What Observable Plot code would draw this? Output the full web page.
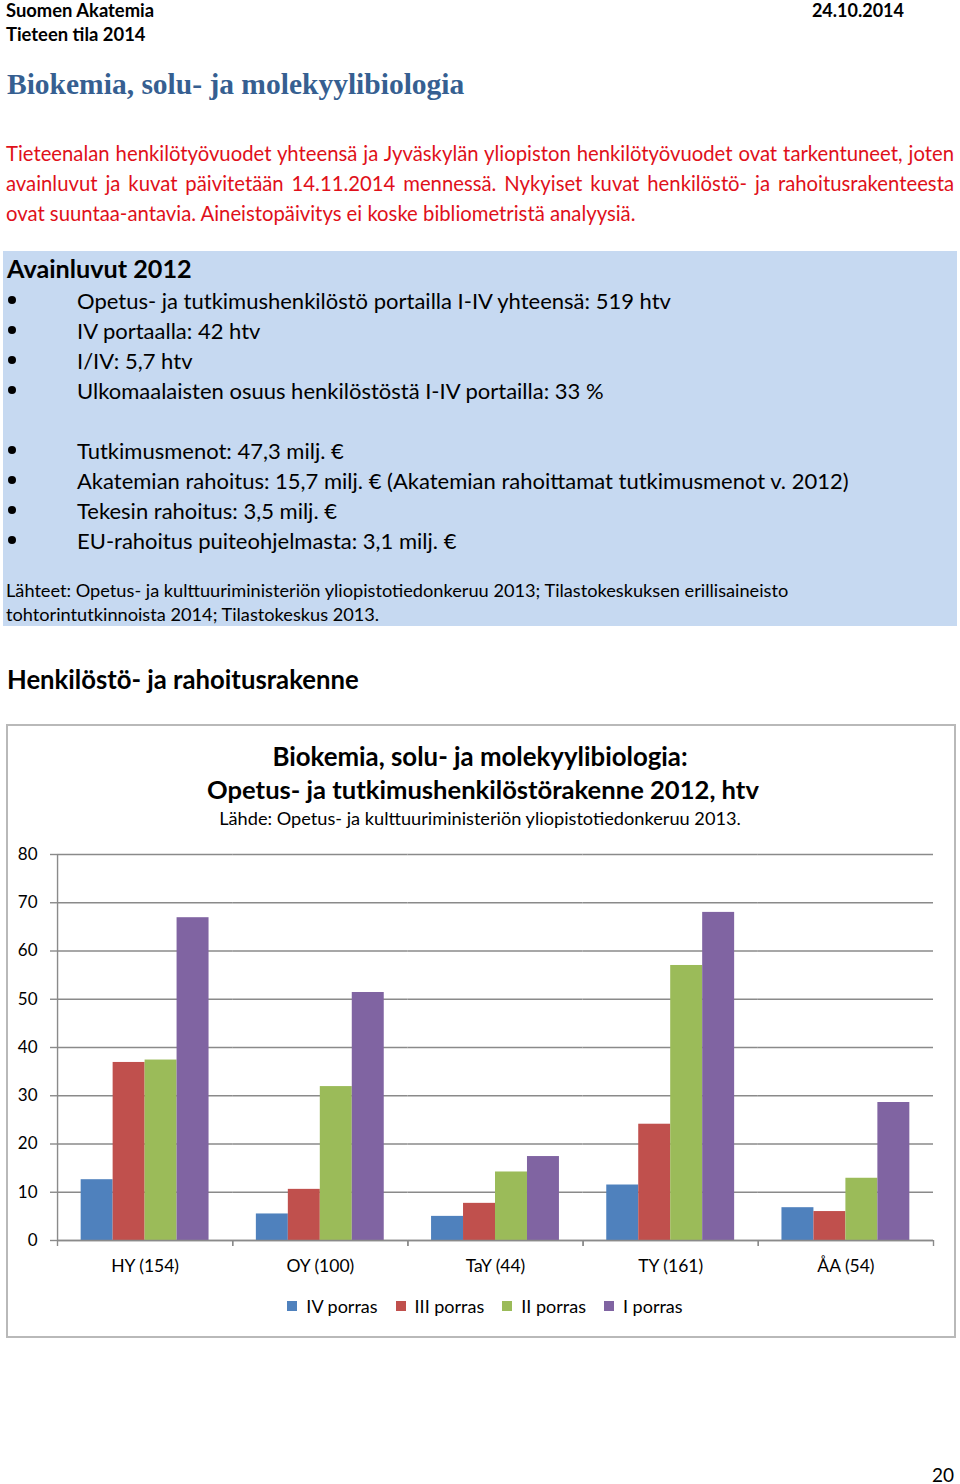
<!DOCTYPE html>
<html>
<head>
<meta charset="utf-8">
<script src="https://cdn.jsdelivr.net/npm/d3@7"></script>
<script src="https://cdn.jsdelivr.net/npm/@observablehq/plot@0.6"></script>
<style>
  html, body { margin: 0; padding: 0; background: #fff; }
  body { width: 960px; height: 1484px; position: relative; font-family: Lato, "Open Sans", sans-serif; color: #000; overflow: hidden; }
  .t { position: absolute; white-space: nowrap; }
  .b { font-weight: bold; }
  .pl { position: absolute; left: 6px; width: 948px; color: #e0101a; font-size: 20.3px; line-height: 30px; white-space: nowrap; }
  .pl.j { text-align: justify; text-align-last: justify; white-space: normal; }
  #box { position: absolute; left: 3px; top: 251px; width: 954px; height: 375px; background: #c6d9f1; }
  .bul { position: absolute; left: 8px; width: 8px; height: 8px; border-radius: 50%; background: #000; }
  #chartbox { position: absolute; left: 6px; top: 724px; width: 946px; height: 610px; border: 2px solid #b9b9b9; }
  #plot { position: absolute; left: 0; top: 840px; }
  #legend { position: absolute; left: 14px; width: 960px; top: 1289px; display: flex; justify-content: center; }
</style>
</head>
<body>
<div id="page"></div>
<div id="plot"></div>
<div id="legend"></div>
<script>
// ---- Data ----
const categories = ["HY (154)", "OY (100)", "TaY (44)", "TY (161)", "ÅA (54)"];
const series = ["IV porras", "III porras", "II porras", "I porras"];
const ivPorras  = [12.6, 5.5, 5.0, 11.5, 6.8];
const iiiPorras = [36.9, 10.6, 7.7, 24.1, 6.0];
const iiPorras  = [37.4, 31.9, 14.2, 57.0, 12.9];
const iPorras   = [66.9, 51.4, 17.4, 68.0, 28.6];
const yTicks = [0, 10, 20, 30, 40, 50, 60, 70, 80];
const colors = ["#4f81bd", "#c0504d", "#9bbb59", "#8064a2"];

const seriesValues = [ivPorras, iiiPorras, iiPorras, iPorras];
const table = [];
categories.forEach((c, i) => series.forEach((s, j) => table.push({category: c, series: s, value: seriesValues[j][i]})));

// ---- Page text ----
const page = document.getElementById("page");
function txt(str, x, cy, size, opts = {}) {
  const d = document.createElement("div");
  d.className = "t" + (opts.bold ? " b" : "");
  d.textContent = str;
  const lh = Math.round(size * 1.4);
  d.style.fontSize = size + "px";
  d.style.lineHeight = lh + "px";
  d.style.top = (cy - lh / 2) + "px";
  if (opts.center) { d.style.left = "0px"; d.style.width = (2 * x) + "px"; d.style.textAlign = "center"; }
  else if (opts.right) { d.style.right = (960 - x) + "px"; d.style.textAlign = "right"; }
  else d.style.left = x + "px";
  if (opts.color) d.style.color = opts.color;
  if (opts.font) d.style.fontFamily = opts.font;
  (opts.parent || page).appendChild(d);
  return d;
}
txt("Suomen Akatemia", 6, 10, 18.4, {bold: true});
txt("Tieteen tila 2014", 6, 34, 18.4, {bold: true});
txt("24.10.2014", 904, 10, 18, {bold: true, right: true});
txt("Biokemia, solu- ja molekyylibiologia", 7, 84, 29.5, {bold: true, color: "#365f91", font: "'Liberation Serif', 'DejaVu Serif', serif"});

const paraLines = [
  ["Tieteenalan henkilötyövuodet yhteensä ja Jyväskylän yliopiston henkilötyövuodet ovat tarkentuneet, joten", 153, true],
  ["avainluvut ja kuvat päivitetään 14.11.2014 mennessä. Nykyiset kuvat henkilöstö- ja rahoitusrakenteesta", 183, true],
  ["ovat suuntaa-antavia. Aineistopäivitys ei koske bibliometristä analyysiä.", 213, false]
];
paraLines.forEach(([s, y, j]) => {
  const d = document.createElement("div");
  d.className = "pl" + (j ? " j" : "");
  d.textContent = s;
  d.style.top = (y - 15) + "px";
  page.appendChild(d);
});

const box = document.createElement("div");
box.id = "box";
page.appendChild(box);
txt("Avainluvut 2012", 7, 268, 25.2, {bold: true});
const bullets = [
  ["Opetus- ja tutkimushenkilöstö portailla I-IV yhteensä: 519 htv", 300],
  ["IV portaalla: 42 htv", 330],
  ["I/IV: 5,7 htv", 360],
  ["Ulkomaalaisten osuus henkilöstöstä I-IV portailla: 33 %", 390],
  ["Tutkimusmenot: 47,3 milj. €", 450],
  ["Akatemian rahoitus: 15,7 milj. € (Akatemian rahoittamat tutkimusmenot v. 2012)", 480],
  ["Tekesin rahoitus: 3,5 milj. €", 510],
  ["EU-rahoitus puiteohjelmasta: 3,1 milj. €", 540]
];
bullets.forEach(([s, y]) => {
  txt(s, 77, y, 22);
  const b = document.createElement("div");
  b.className = "bul";
  b.style.top = (y - 4) + "px";
  page.appendChild(b);
});
txt("Lähteet: Opetus- ja kulttuuriministeriön yliopistotiedonkeruu 2013; Tilastokeskuksen erillisaineisto", 6, 590, 18.2);
txt("tohtorintutkinnoista 2014; Tilastokeskus 2013.", 6, 614, 18.2);

txt("Henkilöstö- ja rahoitusrakenne", 7, 679, 25.7, {bold: true});
const cb = document.createElement("div");
cb.id = "chartbox";
page.appendChild(cb);
txt("Biokemia, solu- ja molekyylibiologia:", 480, 756, 25.8, {bold: true, center: true});
txt("Opetus- ja tutkimushenkilöstörakenne 2012, htv", 483, 789, 25.6, {bold: true, center: true});
txt("Lähde: Opetus- ja kulttuuriministeriön yliopistotiedonkeruu 2013.", 480, 818, 18.2, {center: true});
txt("20", 932, 1474, 19);

// ---- Chart ----
const gray = "#8a8a8a";
const chart = Plot.plot({
  width: 960,
  height: 440,
  marginLeft: 57,
  marginRight: 27,
  marginTop: 14,
  marginBottom: 40,
  style: {fontFamily: "Lato, sans-serif", fontSize: "17px", color: "#000", background: "transparent"},
  fx: {domain: categories, padding: 0, label: null, round: false},
  x: {domain: series, paddingInner: 0, paddingOuter: 0.74, axis: null, round: false},
  y: {domain: [0, 80], label: null},
  color: {domain: series, range: colors},
  marks: [
    Plot.gridY(yTicks, {stroke: gray, strokeOpacity: 1, strokeWidth: 1.4}),
    Plot.axisY(yTicks, {tickSize: 7, tickPadding: 13, stroke: gray, strokeWidth: 1.4, fontSize: 17, label: null}),
    Plot.axisFx({anchor: "bottom", tickSize: 0, tickPadding: 19, fontSize: 17.5, label: null}),
    Plot.axisFx({anchor: "bottom", tickSize: 6, tickFormat: () => "", dx: -87.6, stroke: gray, strokeWidth: 1.4, label: null}),
    Plot.axisFx([categories[categories.length - 1]], {anchor: "bottom", tickSize: 6, tickFormat: () => "", dx: 87.6, stroke: gray, strokeWidth: 1.4, label: null}),
    Plot.barY(table, {fx: "category", x: "series", y: "value", fill: "series"}),
    Plot.ruleY([0], {stroke: gray, strokeWidth: 1.4}),
    Plot.ruleX([series[0]], {fx: [categories[0]], y1: 0, y2: 80, stroke: gray, strokeWidth: 1.4, dx: -39.6})
  ]
});
document.getElementById("plot").appendChild(chart);

const legend = Plot.legend({
  color: {domain: series, range: colors},
  legend: "swatches",
  swatchSize: 10,
  style: {fontFamily: "Lato, sans-serif", fontSize: "18px", color: "#000"}
});
document.getElementById("legend").appendChild(legend);
</script>
</body>
</html>
